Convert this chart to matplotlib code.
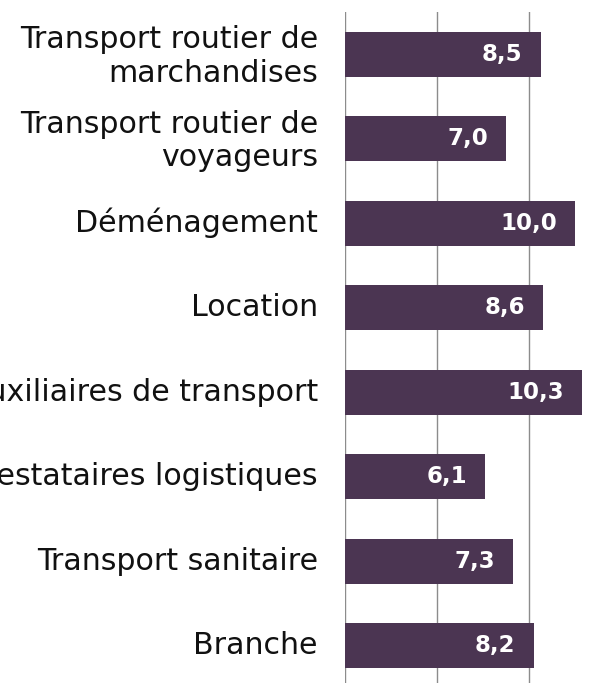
import matplotlib
matplotlib.use("Agg")
import matplotlib.pyplot as plt
from matplotlib.transforms import offset_copy

categories = [
    "Transport routier de\nmarchandises",
    "Transport routier de\nvoyageurs",
    "Déménagement",
    "Location",
    "Auxiliaires de transport",
    "Prestataires logistiques",
    "Transport sanitaire",
    "Branche",
]
values = [8.5, 7.0, 10.0, 8.6, 10.3, 6.1, 7.3, 8.2]
xticks = [0, 4, 8, 12]

W, H = 615, 683
fig = plt.figure(figsize=(W / 100, H / 100), dpi=100)
ax_left = 345 / W
ax_top = 1 - 12 / H
ax_bottom = 1 - 688 / H
px_per_unit = 23.0
xmax = (W - 345) / px_per_unit
ax = fig.add_axes([ax_left, ax_bottom, 1 - ax_left, ax_top - ax_bottom])

bar_color = "#4b3552"
n = len(categories)
ypos = list(range(n))
ax.barh(ypos, values, height=0.53, color=bar_color, zorder=3)
ax.set_xticks(xticks)
ax.set_xticklabels([])
ax.set_ylim(n - 0.5, -0.5)
ax.set_xlim(0, xmax)
ax.grid(axis="x", color="#8c8c8c", linewidth=1.0, zorder=0)
ax.tick_params(axis="both", length=0)
for s in ax.spines.values():
    s.set_visible(False)

ax.set_yticks(ypos)
labels = ax.set_yticklabels(categories, fontsize=21.6, family="DejaVu Sans",
                            color="#111111", linespacing=1.2)
ax.set_ylim(n - 0.5, -0.5)
ax.tick_params(axis="y", pad=19.5)
lab_trans = offset_copy(ax.get_yaxis_transform(which="tick1"), fig=fig,
                        x=0, y=3, units="dots")
for lab in labels:
    lab.set_transform(lab_trans + matplotlib.transforms.ScaledTranslation(
        -19.5 / 72, 0, fig.dpi_scale_trans))

trans = offset_copy(ax.transData, fig=fig, x=-18, y=0, units="dots")
for y, v in zip(ypos, values):
    ax.text(v, y, f"{v:.1f}".replace(".", ","), transform=trans,
            ha="right", va="center", color="white", fontweight="bold",
            fontsize=16.5, family="DejaVu Sans", zorder=4)

fig.savefig("out.png", dpi=100)
